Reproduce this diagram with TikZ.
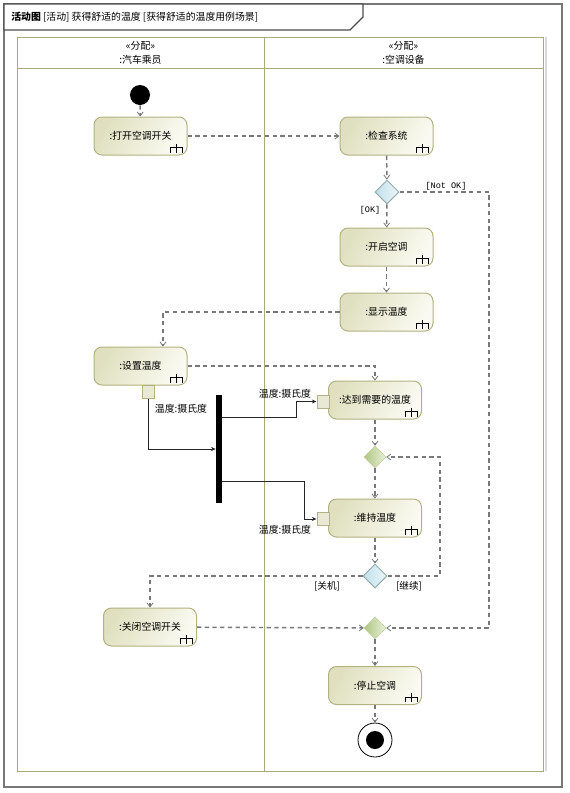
\documentclass[tikz,border=0pt]{standalone}
\usepackage{fontspec}
\setmainfont{Noto Sans CJK SC}
\newfontfamily\monof{Liberation Mono}
\usetikzlibrary{shapes.geometric,arrows.meta,calc}

\definecolor{lanec}{RGB}{170,170,120}
\definecolor{actbord}{RGB}{178,178,130}
\definecolor{actfill}{RGB}{224,224,192}
\definecolor{actlite}{RGB}{250,250,242}
\definecolor{flowc}{RGB}{120,120,120}
\definecolor{decbord}{RGB}{150,172,172}
\definecolor{decfill}{RGB}{192,224,234}
\definecolor{declite}{RGB}{236,246,250}
\definecolor{mrgfill}{RGB}{176,198,132}
\definecolor{mrglite}{RGB}{232,240,214}
\definecolor{framec}{RGB}{120,120,120}

\tikzset{
  action/.style={rectangle, rounded corners=6pt, draw=actbord, line width=0.75pt,
    left color=actfill, right color=actlite, shading angle=60,
    minimum width=69.75pt, minimum height=28.5pt, inner sep=0pt},
  decbox/.style={diamond, aspect=1, draw=decbord, line width=0.75pt,
    left color=decfill, right color=declite, minimum width=18pt, minimum height=18pt, inner sep=0pt},
  mrgbox/.style={diamond, aspect=1, draw=mrgfill!80, line width=0.4pt,
    left color=mrgfill, right color=mrglite, minimum width=16.5pt, minimum height=16.5pt, inner sep=0pt},
  pinbox/.style={rectangle, draw=actbord, line width=0.75pt, fill=actfill!70,
    minimum width=9pt, minimum height=9.75pt, inner sep=0pt},
  flow/.style={draw=flowc, line width=1.1pt, dash pattern=on 3.2pt off 2.6pt,
    -{Straight Barb[length=3pt,width=4.5pt,line width=0.6pt]}},
  oflow/.style={draw=black!85, line width=0.75pt,
    -{Stealth[length=3.5pt,width=3pt]}},
  rakestyle/.style={draw=black, line width=0.7pt},
  guard/.style={font=\monof\fontsize{6.4}{7}\selectfont, inner sep=0pt},
  lbl/.style={inner sep=0pt},
}
\newcommand\rakeicon[1]{%
  \draw[rakestyle] ($(#1.south east)+(-17,-3)$) -- ++(0,-5) -- ++(12,0) -- ++(0,5)
    ($(#1.south east)+(-11,-3)$) -- ++(0,-9);}

\begin{document}
\begin{tikzpicture}[x=0.75pt,y=-0.75pt, font=\fontsize{7.4}{8.5}\selectfont]
\useasboundingbox (0,0) rectangle (569,793);

% outer frame
\draw[framec, line width=1.2pt] (4,4) rectangle (562,787);
% title tab
\draw[black!70, line width=0.9pt, fill=white] (4,4) -- (363,4) -- (363,17) -- (350,30) -- (4,30) -- cycle;
\node[anchor=west, lbl] (title) at (11,17.5) {\textbf{活动图} [活动] 获得舒适的温度 [获得舒适的温度用例场景]};

% partitions
\draw[black!15, line width=2pt] (546,37) -- (546,771);
\draw[lanec, line width=0.75pt] (17,37) rectangle (543,771);
\draw[lanec, line width=0.75pt] (17,68) -- (543,68);
\draw[lanec, line width=0.75pt] (264,37) -- (264,771);
\node[lbl] (h1a) at (140.5,46) {«分配»};
\node[lbl] (h1b) at (140.5,60) {:汽车乘员};
\node[lbl] (h2a) at (403.5,46) {«分配»};
\node[lbl] (h2b) at (403.5,60) {:空调设备};

% nodes
\node[circle, fill=black, minimum size=15pt, inner sep=0pt] (init) at (140,95) {};
\node[action] (open) at (140.5,136) {:打开空调开关};
\node[action] (check) at (386.5,136) {:检查系统};
\node[decbox] (dec1) at (387,192) {};
\node[action] (start) at (386.5,247) {:开启空调};
\node[action] (show) at (386.5,312) {:显示温度};
\node[action] (set) at (140.5,366) {:设置温度};
\node[pinbox] (pin1) at (148,391.5) {};
\node[action] (reach) at (375,400) {:达到需要的温度};
\node[pinbox] (pin2) at (323,401.5) {};
\node[rectangle, fill=black, minimum width=4.5pt, minimum height=81pt, inner sep=0pt] (bar) at (219,449) {};
\node[mrgbox] (merge1) at (375,457) {};
\node[action] (keep) at (375,518) {:维持温度};
\node[pinbox] (pin3) at (323,519) {};
\node[decbox] (dec2) at (375,576) {};
\node[action] (close) at (150,627) {:关闭空调开关};
\node[mrgbox] (merge2) at (375,628) {};
\node[action] (stop) at (375,685.5) {:停止空调};
\node[circle, draw=black, line width=0.6pt, fill=white, minimum size=25.5pt, inner sep=0pt] (final) at (375,740) {};
\node[circle, fill=black, minimum size=13.5pt, inner sep=0pt] (finaldot) at (375,740) {};

\foreach \n in {open,check,start,show,set,reach,keep,close,stop} {\rakeicon{\n}}

% labels
\node[lbl] (l1) at (181,409) {温度:摄氏度};
\node[lbl] (l2) at (285,394) {温度:摄氏度};
\node[lbl] (l3) at (285,530) {温度:摄氏度};
\node[guard] (gok) at (370,210) {[OK]};
\node[guard] (gnot) at (446,186) {[Not OK]};
\node[guard, font=\fontsize{7.2}{8}\selectfont] (goff) at (327,586) {[关机]};
\node[guard, font=\fontsize{7.2}{8}\selectfont] (gon) at (409,586) {[继续]};

% helper coordinates
\coordinate (kNot) at (489,0);
\coordinate (kCont) at (440,0);
\coordinate (kSet) at (163,0);
\coordinate (kJ1) at (296,0);
\coordinate (kJ2) at (304,0);

% control flows
\draw[flow] (init) -- (open);
\draw[flow] (open) -- (check);
\draw[flow] (check) -- (dec1);
\draw[flow] (dec1) -- (start);
\draw[flow] (start) -- (show);
\draw[flow] (show.west) -| (kSet |- set.north);
\draw[flow] (set.east) -| (reach.north);
\draw[flow] (dec1.east) -- (dec1.east -| kNot) -- (kNot |- merge2) -- (merge2.east);
\draw[flow] (reach) -- (merge1);
\draw[flow] (merge1) -- (keep);
\draw[flow] (keep) -- (dec2);
\draw[flow] (dec2.east) -- (dec2.east -| kCont) -- (kCont |- merge1) -- (merge1.east);
\draw[flow] (dec2.west) -| (close.north);
\draw[flow] (close) -- (merge2);
\draw[flow] (merge2) -- (stop);
\draw[flow] (stop) -- (final);

% object flows
\draw[oflow] (pin1.south) |- (bar.west);
\draw[oflow] ($(bar.east)+(0,-32)$) -| (kJ1 |- pin2) -- (pin2.west);
\draw[oflow] ($(bar.east)+(0,32)$) -| (kJ2 |- pin3) -- (pin3.west);
\end{tikzpicture}
\end{document}
